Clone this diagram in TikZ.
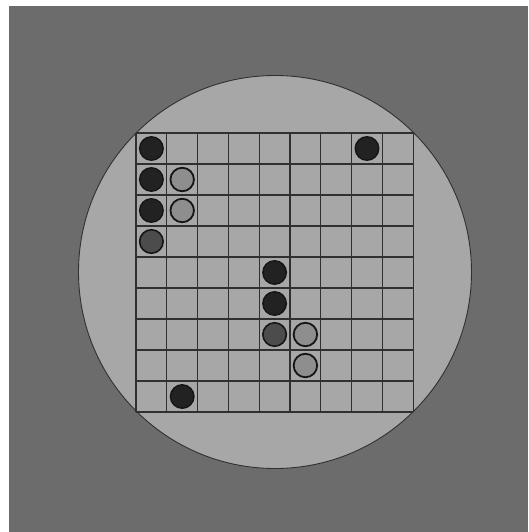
\documentclass[tikz,border=0pt]{standalone}
\begin{document}
\begin{tikzpicture}[x=1pt,y=-1pt,
  blackstone/.style={circle,minimum size=23.5pt,inner sep=0pt,fill=stoneblack,draw=stonerim,line width=1.4pt},
  greystone/.style={circle,minimum size=23.5pt,inner sep=0pt,fill=stonegrey,draw=stonerim,line width=1.6pt},
  whitestone/.style={circle,minimum size=23.5pt,inner sep=0pt,fill=stonewhite,draw=stonerim,line width=1.8pt}]
\definecolor{bg}{HTML}{6C6C6C}
\definecolor{plate}{HTML}{A7A7A7}
\definecolor{gridc}{HTML}{303030}
\definecolor{stoneblack}{HTML}{222222}
\definecolor{stonegrey}{HTML}{4C4C4C}
\definecolor{stonewhite}{HTML}{8E8E8E}
\definecolor{stonerim}{HTML}{151515}
\useasboundingbox (0,0) rectangle (528,532);
\fill[white] (0,0) rectangle (528,532);
\fill[bg] (9,6) rectangle (528,532);
\fill[plate,draw=gridc,line width=0.9pt] (275,272) circle (196.5);
% grid
\foreach \i in {0,...,9} {
  \draw[gridc,line width=1.3pt] ({136+30.8*\i},133) -- ({136+30.8*\i},412);
  \draw[gridc,line width=1.3pt] (136,{133+31*\i}) -- (413,{133+31*\i});
}
% stones: cell (c,r) centre = (151.4+30.8c, 148.5+31r)
\node[blackstone] (s00) at (151.4,148.5) {};
\node[blackstone] (s70) at (367.0,148.5) {};
\node[blackstone] (s01) at (151.4,179.5) {};
\node[whitestone] (s11) at (182.2,179.5) {};
\node[blackstone] (s02) at (151.4,210.5) {};
\node[whitestone] (s12) at (182.2,210.5) {};
\node[greystone] (s03) at (151.4,241.5) {};
\node[blackstone] (s44) at (274.6,272.5) {};
\node[blackstone] (s45) at (274.6,303.5) {};
\node[greystone] (s46) at (274.6,334.5) {};
\node[whitestone] (s56) at (305.4,334.5) {};
\node[whitestone] (s57) at (305.4,365.5) {};
\node[blackstone] (s18) at (182.2,396.5) {};
\end{tikzpicture}
\end{document}
